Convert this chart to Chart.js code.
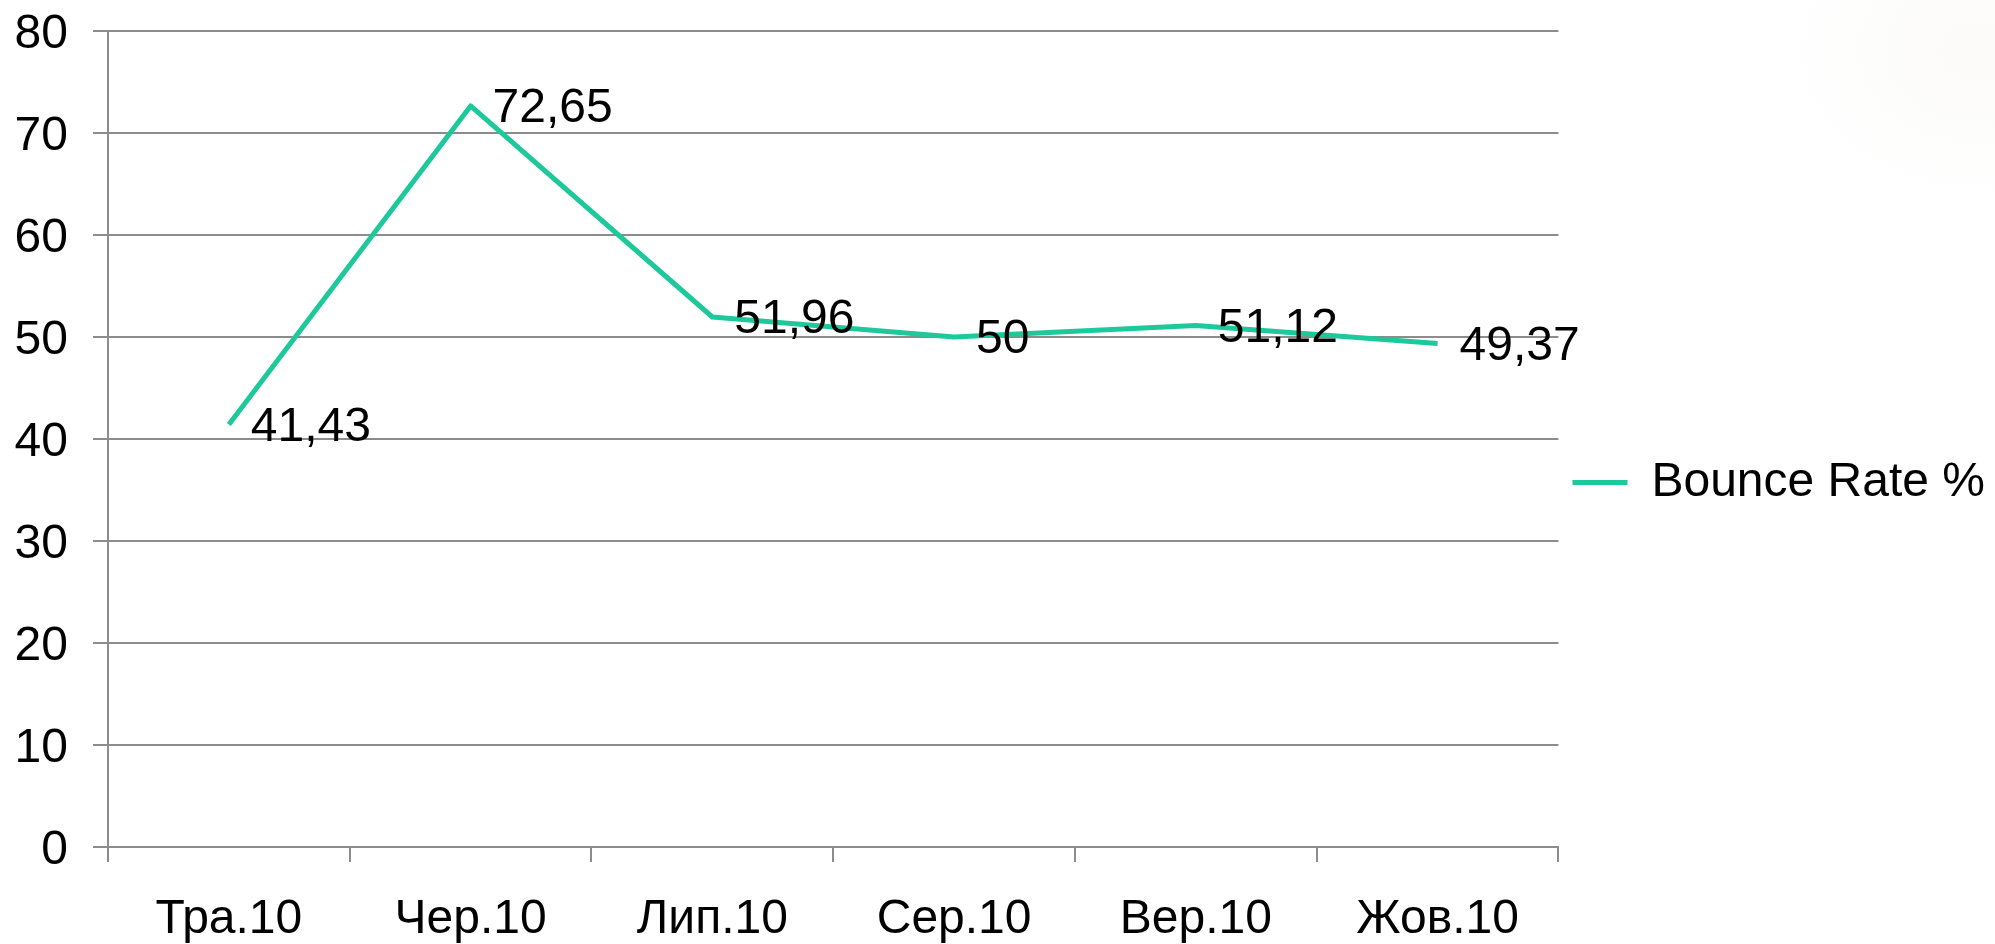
<!DOCTYPE html>
<html>
<head>
<meta charset="utf-8">
<script src="https://cdn.jsdelivr.net/npm/chart.js@4/dist/chart.umd.min.js"></script>
<style>
    html, body { margin: 0; padding: 0; background: #fff; }
    body {
        width: 1995px; height: 944px; overflow: hidden;
        background: radial-gradient(ellipse 190px 150px at 1975px 50px, rgba(238,235,228,0.22), rgba(255,255,255,0) 100%), #fff;
    }
    #wrap { position: absolute; left: 0; top: 0; width: 1995px; height: 944px; }
</style>
</head>
<body>
<div id="wrap"><canvas id="bounceChart" width="1995" height="944"></canvas></div>
<script>
// ===== Data =====
const months = ['Тра.10', 'Чер.10', 'Лип.10', 'Сер.10', 'Вер.10', 'Жов.10'];
const bounceRate = [41.43, 72.65, 51.96, 50, 51.12, 49.37];
const seriesName = 'Bounce Rate %';
const yTicks = [0, 10, 20, 30, 40, 50, 60, 70, 80];

const FONT = '"Liberation Sans", Arial, sans-serif';
const LINE_COLOR = '#1dc99b';
const GRID_COLOR = '#8c8c8c';
const TEXT_SIZE = 48;

// value labels to the right of each point, comma as decimal mark
const pointLabels = {
    id: 'pointLabels',
    afterDatasetsDraw(chart) {
        const ctx = chart.ctx;
        const meta = chart.getDatasetMeta(0);
        ctx.save();
        ctx.font = TEXT_SIZE + 'px ' + FONT;
        ctx.fillStyle = '#000';
        ctx.textAlign = 'left';
        ctx.textBaseline = 'middle';
        meta.data.forEach((pt, i) => {
            const txt = String(bounceRate[i]).replace('.', ',');
            ctx.fillText(txt, pt.x + 22, pt.y + 3);
        });
        ctx.restore();
    }
};

// nudge the legend up a little so it sits where the original one does
const legendNudge = {
    id: 'legendNudge',
    afterLayout(chart) {
        if (!chart.legend) return;
        chart.legend.top -= 5;
        chart.legend.bottom -= 5;
    }
};

new Chart(document.getElementById('bounceChart'), {
    type: 'line',
    data: {
        labels: months,
        datasets: [{
            label: seriesName,
            data: bounceRate,
            borderColor: LINE_COLOR,
            backgroundColor: LINE_COLOR,
            borderWidth: 5,
            tension: 0,
            pointRadius: 0,
            pointHoverRadius: 0,
            borderJoinStyle: 'round',
            borderCapStyle: 'butt',
            fill: false
        }]
    },
    options: {
        responsive: false,
        animation: false,
        events: [],
        layout: { padding: { top: 31, right: 0, left: 0, bottom: 0 } },
        plugins: {
            tooltip: { enabled: false },
            legend: {
                position: 'right',
                align: 'center',
                labels: {
                    usePointStyle: true,
                    pointStyle: 'line',
                    pointStyleWidth: 55,
                    padding: 14,
                    color: '#000',
                    font: { family: FONT, size: TEXT_SIZE }
                }
            }
        },
        scales: {
            x: {
                offset: true,
                grid: {
                    offset: true,
                    drawOnChartArea: false,
                    drawTicks: true,
                    tickLength: 15,
                    color: GRID_COLOR,
                    lineWidth: 2
                },
                border: { display: true, color: GRID_COLOR, width: 2 },
                ticks: {
                    color: '#000',
                    padding: 29,
                    maxRotation: 0,
                    font: { family: FONT, size: TEXT_SIZE }
                },
                afterFit(scale) {
                    scale.height = 97;
                    scale.paddingLeft = 0;
                    scale.paddingRight = 0;
                }
            },
            y: {
                min: 0,
                max: 80,
                afterBuildTicks(scale) { scale.ticks = yTicks.map(v => ({ value: v })); },
                grid: {
                    color: GRID_COLOR,
                    lineWidth: 2,
                    tickLength: 15
                },
                border: { display: true, color: GRID_COLOR, width: 2 },
                ticks: {
                    color: '#000',
                    padding: 25,
                    labelOffset: 4,
                    font: { family: FONT, size: TEXT_SIZE }
                },
                afterFit(scale) {
                    scale.width = 108;
                    scale.paddingTop = 0;
                    scale.paddingBottom = 0;
                }
            }
        }
    },
    plugins: [pointLabels, legendNudge]
});
</script>
</body>
</html>
